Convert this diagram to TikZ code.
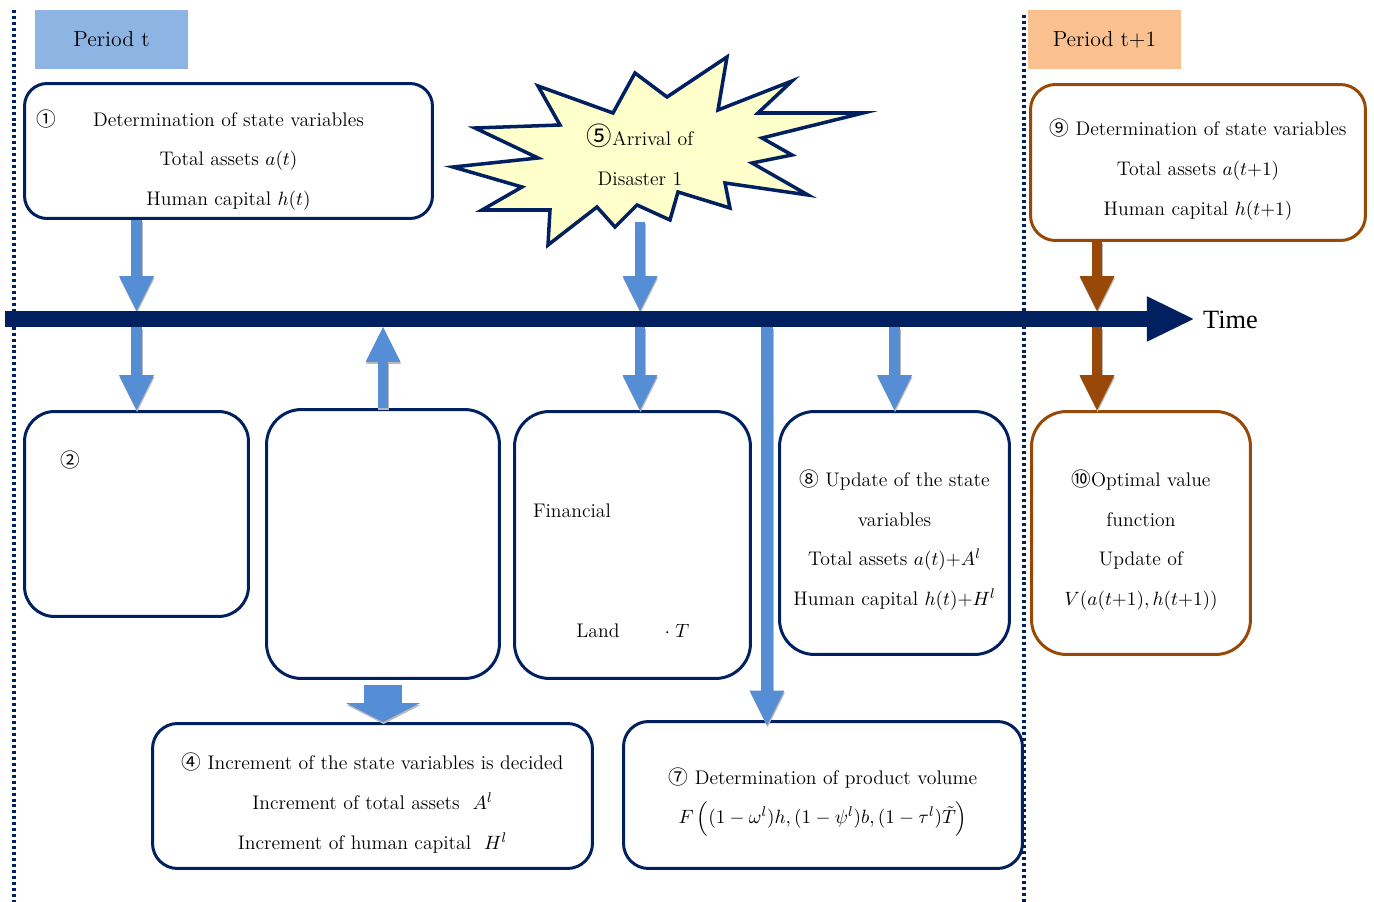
\documentclass[tikz,border=0pt]{standalone}
\usepackage{amsmath}
\usepackage{fontspec}
\usepackage{tikz}
\usetikzlibrary{arrows.meta,positioning,calc}
\usepackage{xcolor}

\newfontfamily\cjk{Noto Sans CJK JP}
\newfontfamily\timefont{Liberation Serif}
\newcommand{\cn}[1]{{\cjk #1}}
\newcommand{\lowered}[1][17.5pt]{\rule{0pt}{#1}}

\definecolor{navy}{HTML}{002060}
\definecolor{flowblue}{HTML}{558ED5}
\definecolor{periodblue}{HTML}{8EB4E3}
\definecolor{periodpeach}{HTML}{FAC090}
\definecolor{nextbrown}{HTML}{984807}
\definecolor{burstyellow}{HTML}{FFFFCC}

% block arrow with a soft gray shadow below it
\newcommand{\flow}[3][]{%
    \draw [blockarr, #1, draw=gray!55, transform canvas={shift={(0.6,2)}}] #2 -- #3;
    \draw [blockarr, #1] #2 -- #3;}

\begin{document}
\begin{tikzpicture}[
    x=0.02cm, y=-0.02cm,
    every node/.style = {font=\fontsize{11.2pt}{22.6pt}\selectfont},
    stepbox/.style = {rectangle, draw=navy, line width=1.7pt, fill=white, rounded corners=#1, align=center, inner sep=0pt},
    stepbox/.default = 0.6cm,
    nextbox/.style = {stepbox=#1, draw=nextbrown},
    nextbox/.default = 0.6cm,
    periodtag/.style = {rectangle, fill=#1, minimum width=3.06cm, minimum height=1.18cm, font=\fontsize{12.4pt}{14pt}\selectfont},
    blockarr/.style = {draw=flowblue, line width=6.2pt, -{Triangle[width=19.8pt, length=19.8pt, line width=0pt]}},
    periodline/.style = {draw=navy, line width=1.9pt, dash pattern=on 1.7pt off 1.7pt}
]
    \useasboundingbox (0,0) rectangle (1374,902);

    % 1. Period separators and tags
    \draw [periodline] (14,10) -- (14,902);
    \draw [periodline] (1024,15) -- (1024,902);
    \node [periodtag=periodblue] (per_t) at (111.5,39.5) {Period t};
    \node [periodtag=periodpeach] (per_t1) at (1104.5,39.5) {Period t+1};

    % 2. Period t boxes
    \node [stepbox=0.45cm, minimum width=8.16cm, minimum height=2.7cm] (state) at (228.5,151)
        {\lowered[19.5pt]\llap{\cn{①}\hspace{21pt}}Determination of state variables\\ Total assets $a(t)$\\ Human capital $h(t)$};
    \node [stepbox, minimum width=4.48cm, minimum height=4.1cm] (choice) at (136.5,514) {};
    \node (choice_no) at (70,460) {\cn{②}};
    \node [stepbox=0.7cm, minimum width=4.66cm, minimum height=5.38cm] (invest) at (383,544) {};
    \node [stepbox=0.7cm, minimum width=4.72cm, minimum height=5.34cm] (damage) at (632.5,545) {};
    \node (dmg_fin) at (572,511) {Financial};
    \node (dmg_land) at (598,631) {Land};
    \node (dmg_t) at (677,631) {$\cdot\;T$};
    \node [stepbox=0.7cm, minimum width=4.6cm, minimum height=4.86cm] (update) at (894.5,533)
        {\lowered\cn{⑧} Update of the state\\ variables\\ Total assets $a(t)$+$A^l$\\ Human capital $h(t)$+$H^l$};
    \node [stepbox=0.5cm, minimum width=8.8cm, minimum height=2.9cm] (increment) at (372.5,796)
        {\lowered\cn{④} Increment of the state variables is decided\\ Increment of total assets\ \ $A^l$\\ Increment of human capital\ \ $H^l$};
    \node [stepbox=0.5cm, minimum width=7.98cm, minimum height=2.94cm] (product) at (823,795)
        {\lowered\cn{⑦} Determination of product volume\\ {\fontsize{10.9pt}{22.6pt}\selectfont$F\,\Bigl((1-\omega^l)h,(1-\psi^l)b,(1-\tau^l)\tilde{T}\Bigr)$}};

    % 3. Disaster burst
    \draw [draw=navy, line width=2pt, fill=burstyellow, line join=miter]
        (453,167) -- (538,158) -- (475,128) -- (560,125) -- (538,86) -- (613,113) -- (635,73)
        -- (667,97) -- (727,57) -- (718,110) -- (792,81) -- (758,113) -- (863,113) -- (762,138)
        -- (792,155) -- (752,163) -- (808,195) -- (725,183) -- (730,208) -- (678,192) -- (670,220)
        -- (637,205) -- (615,227) -- (597,207) -- (548,245) -- (550,210) -- (482,210) -- (522,187) -- cycle;
    \node [align=center] (burst) at (640,155) {{\cjk\fontsize{14.5pt}{14pt}\selectfont ⑤}Arrival of\\ Disaster 1};
    \coordinate (burst_stem) at (640,222);

    % 4. Period t+1 boxes
    \node [nextbox=0.5cm, minimum width=6.7cm, minimum height=3.12cm] (nextstate) at (1198,162.5)
        {\lowered\cn{⑨} Determination of state variables\\ Total assets $a(t{+}1)$\\ Human capital $h(t{+}1)$};
    \node [nextbox=0.7cm, minimum width=4.38cm, minimum height=4.86cm] (value) at (1141,533)
        {\lowered\cn{⑩}Optimal value\\ function\\ Update of\\ $V(a(t{+}1),h(t{+}1))$};
    \coordinate (next_stem) at (1097,0);

    % 5. Time axis edges
    \coordinate (ax_top) at (0,311);
    \coordinate (ax_bot) at (0,327);
    \coordinate (prod_stem) at (767,0);

    % 6. Flows into and out of the time axis
    \flow{(choice.north |- state.south)}{(choice.north |- ax_top)}
    \flow{(choice.north |- ax_bot)}{(choice.north)}
    \flow{(invest.north)}{(invest.north |- ax_bot)}
    \flow{(burst_stem)}{(burst_stem |- ax_top)}
    \flow{(burst_stem |- ax_bot)}{(burst_stem |- damage.north)}
    \flow[line width=6.8pt]{(prod_stem |- ax_bot)}{([yshift=-3pt]prod_stem |- product.north)}
    \flow{(update.north |- ax_bot)}{(update.north)}
    \flow[draw=nextbrown]{(next_stem |- nextstate.south)}{(next_stem |- ax_top)}
    \flow[draw=nextbrown]{(next_stem |- ax_bot)}{(next_stem |- value.north)}
    \flow[line width=21.5pt, -{Triangle[width=42pt, length=10.8pt, line width=0pt]}]{([yshift=-3pt]invest.south)}{(invest.south |- increment.north)}

    % 7. Time axis
    \coordinate (ax_start) at (5,319);
    \node [font=\timefont\fontsize{15pt}{17pt}\selectfont, anchor=west] (time) at (1197,320) {Time};
    \draw [draw=navy, line width=9.1pt, -{Triangle[width=26pt, length=26.6pt, line width=0pt]}] (ax_start) -- ([xshift=-2pt]ax_start -| time.west);

\end{tikzpicture}
\end{document}
